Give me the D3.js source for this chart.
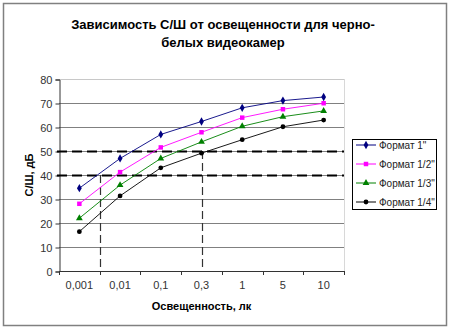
<!DOCTYPE html>
<html>
<head>
<meta charset="utf-8">
<script src="https://cdn.jsdelivr.net/npm/d3@7"></script>
<style>
  body { margin: 0; background: #fff; }
  text { font-family: "Liberation Sans", Arial, sans-serif; }
</style>
</head>
<body>
<script>
// Data
var categories = ["0,001", "0,01", "0,1", "0,3", "1", "5", "10"];
var seriesNames = ["Формат 1\"", "Формат 1/2\"", "Формат 1/3\"", "Формат 1/4\""];
var format1 = [34.5, 46.9, 56.9, 62.3, 68.0, 71.0, 72.5];
var format12 = [28.0, 41.2, 51.5, 57.8, 63.9, 67.4, 69.9];
var format13 = [22.0, 35.8, 46.9, 53.8, 60.3, 64.3, 66.7];
var format14 = [16.4, 31.3, 43.0, 49.1, 54.7, 60.1, 62.9];
var yTicks = [0, 10, 20, 30, 40, 50, 60, 70, 80];
var levelLines = [50, 40];            // dashed horizontal levels
var markerDrops = [                   // dashed verticals: [category position, level]
  { at: 0.5, level: 40 },
  { at: 3, level: 50 }
];

var colors = ["#000080", "#ff00ff", "#008000", "#000000"];
var symbols = [d3.symbolDiamond, d3.symbolSquare, d3.symbolTriangle, d3.symbolCircle];
var symSizes = [20, 20, 20, 18];

var width = 450, height = 329;
var plot = { left: 59, top: 79, right: 344, bottom: 271 };

var svg = d3.select("body").append("svg")
  .attr("width", width)
  .attr("height", height);

// Chart border
svg.append("rect")
  .attr("x", 3.5).attr("y", 3.5)
  .attr("width", 443).attr("height", 322)
  .attr("fill", "#fff")
  .attr("stroke", "#808080")
  .attr("stroke-width", 1.5);

// Title
var title = svg.append("text")
  .attr("text-anchor", "middle")
  .attr("font-size", 13)
  .attr("font-weight", "bold");
title.append("tspan").attr("x", 223).attr("y", 29).text("Зависимость С/Ш от освещенности для черно-");
title.append("tspan").attr("x", 223).attr("y", 47).text("белых видеокамер");

// Scales
var x = d3.scaleBand().domain(categories).range([plot.left, plot.right]);
var y = d3.scaleLinear().domain([0, 80]).range([plot.bottom, plot.top]);
var xc = function(i) { return x(categories[i]) + x.bandwidth() / 2; };
var xpos = function(p) { return plot.left + x.bandwidth() * (p + 0.5); };

// Gridlines
svg.append("g").selectAll("line")
  .data(yTicks.filter(function(d) { return d > 0; }))
  .enter().append("line")
  .attr("x1", plot.left).attr("x2", plot.right)
  .attr("y1", function(d) { return Math.round(y(d)) + 0.5; })
  .attr("y2", function(d) { return Math.round(y(d)) + 0.5; })
  .attr("stroke", function(d) { return d === 80 ? "#c8c8c8" : "#808080"; });

// right edge of plot area
svg.append("line")
  .attr("x1", plot.right + 0.5).attr("x2", plot.right + 0.5)
  .attr("y1", plot.top).attr("y2", plot.bottom)
  .attr("stroke", "#d8d8d8");

// Y axis
var yAxis = d3.axisLeft(y).tickValues(yTicks).tickSize(4).tickPadding(3);
var gy = svg.append("g")
  .attr("transform", "translate(" + (plot.left + 0.5) + ",0.5)")
  .call(yAxis);
gy.selectAll("text").attr("font-size", 11).attr("fill", "#333").attr("font-family", "Liberation Sans, Arial");
gy.selectAll("line, path").attr("stroke", "#333");

// X axis (ticks between categories)
svg.append("line")
  .attr("x1", plot.left).attr("x2", plot.right + 1)
  .attr("y1", plot.bottom + 0.5).attr("y2", plot.bottom + 0.5)
  .attr("stroke", "#333");
svg.append("g").selectAll("line")
  .data(d3.range(categories.length + 1))
  .enter().append("line")
  .attr("x1", function(i) { return Math.round(plot.left + i * x.bandwidth()) + 0.5; })
  .attr("x2", function(i) { return Math.round(plot.left + i * x.bandwidth()) + 0.5; })
  .attr("y1", plot.bottom).attr("y2", plot.bottom + 4)
  .attr("stroke", "#333");
svg.append("g").selectAll("text")
  .data(categories)
  .enter().append("text")
  .attr("x", function(d, i) { return xc(i); })
  .attr("y", 289)
  .attr("text-anchor", "middle")
  .attr("font-size", 11)
  .attr("fill", "#333")
  .text(function(d) { return d; });

// Axis titles
svg.append("text")
  .attr("x", (plot.left + plot.right) / 2)
  .attr("y", 310)
  .attr("text-anchor", "middle")
  .attr("font-size", 11)
  .attr("font-weight", "bold")
  .text("Освещенность, лк");
svg.append("text")
  .attr("transform", "translate(33," + (plot.top + plot.bottom) / 2 + ") rotate(-90)")
  .attr("text-anchor", "middle")
  .attr("font-size", 11)
  .attr("font-weight", "bold")
  .text("С/Ш, дБ");

// Dashed level lines
svg.append("g").selectAll("line")
  .data(levelLines)
  .enter().append("line")
  .attr("x1", plot.left - 2).attr("x2", plot.right)
  .attr("y1", function(d) { return Math.round(y(d)) + 0.5; })
  .attr("y2", function(d) { return Math.round(y(d)) + 0.5; })
  .attr("stroke", "#000")
  .attr("stroke-width", 2)
  .attr("stroke-dasharray", "10,5");
svg.append("g").selectAll("line")
  .data(markerDrops)
  .enter().append("line")
  .attr("x1", function(d) { return Math.round(xpos(d.at)) + 0.5; })
  .attr("x2", function(d) { return Math.round(xpos(d.at)) + 0.5; })
  .attr("y1", function(d) { return y(d.level); })
  .attr("y2", plot.bottom)
  .attr("stroke", "#333")
  .attr("stroke-width", 1.2)
  .attr("stroke-dasharray", "8,4");

// Series
var series = [format1, format12, format13, format14];
var line = d3.line()
  .x(function(d, i) { return xc(i); })
  .y(function(d) { return y(d); });

series.forEach(function(vals, s) {
  svg.append("path")
    .attr("d", line(vals))
    .attr("fill", "none")
    .attr("stroke", colors[s])
    .attr("stroke-width", 0.9);
  svg.append("g").selectAll("path")
    .data(vals)
    .enter().append("path")
    .attr("d", d3.symbol().type(symbols[s]).size(symSizes[s]))
    .attr("transform", function(d, i) { return "translate(" + xc(i) + "," + y(d) + ")"; })
    .attr("fill", colors[s]);
});

// Legend
var legend = svg.append("g").attr("transform", "translate(352,139)");
legend.append("rect")
  .attr("x", 0.5).attr("y", 0.5)
  .attr("width", 84).attr("height", 70)
  .attr("fill", "#fff")
  .attr("stroke", "#000");
seriesNames.forEach(function(name, s) {
  var cy = 6 + s * 19;
  legend.append("line")
    .attr("x1", 4).attr("x2", 24)
    .attr("y1", cy).attr("y2", cy)
    .attr("stroke", colors[s]);
  legend.append("path")
    .attr("d", d3.symbol().type(symbols[s]).size(symSizes[s])())
    .attr("transform", "translate(14," + cy + ")")
    .attr("fill", colors[s]);
  legend.append("text")
    .attr("x", 27).attr("y", cy + 4)
    .attr("font-size", 10)
    .attr("fill", "#222")
    .text(name);
});
</script>
</body>
</html>
